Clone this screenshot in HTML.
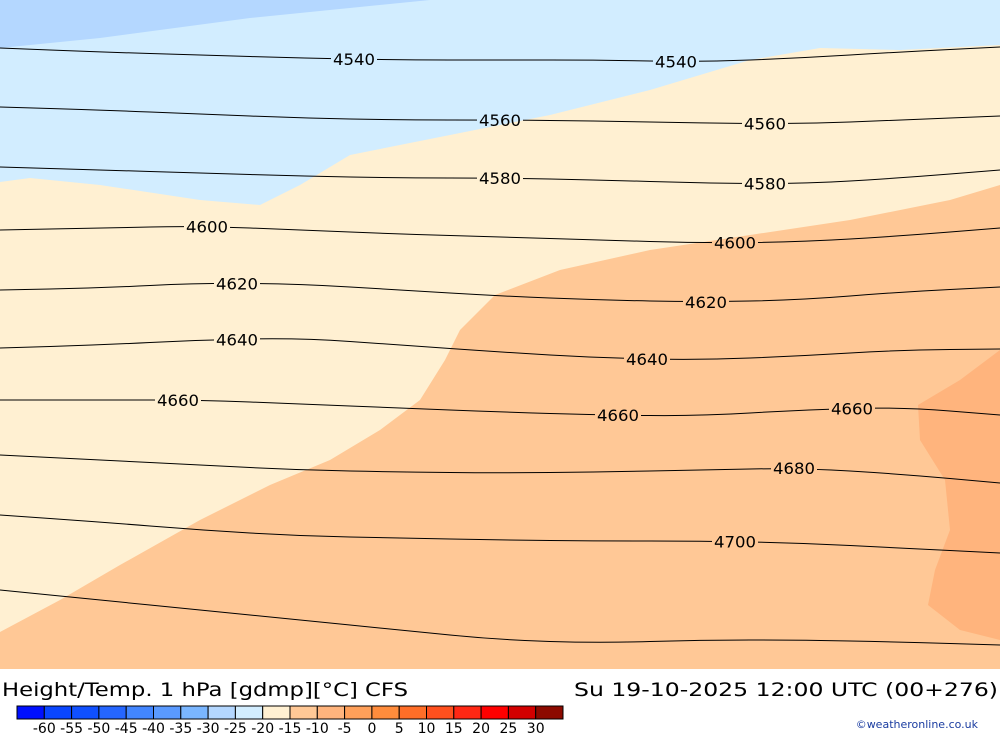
<!DOCTYPE html>
<html><head><meta charset="utf-8"><style>
body{margin:0;width:1000px;height:733px;background:#fff;overflow:hidden;font-family:"DejaVu Sans","Liberation Sans",sans-serif}
svg text{font-family:"DejaVu Sans","Liberation Sans",sans-serif}
</style></head><body>
<svg width="1000" height="733">
<defs><mask id="lblmask" maskUnits="userSpaceOnUse" x="0" y="0" width="1000" height="733"><rect x="0" y="0" width="1000" height="733" fill="#fff"/><g id="maskholes"></g></mask></defs>
<g>
<rect x="0" y="0" width="1000" height="669" fill="#d2edff"/>
<polygon fill="#b4d7ff" points="0,0 430,0 250,18 100,38 0,48"/>
<polygon fill="#fff0d2" points="0,182 30,178 100,185 200,200 260,205 300,185 350,155 450,135 550,115 650,90 750,60 820,48 900,50 1000,45 1000,669 0,669"/>
<polygon fill="#ffc896" points="0,632 60,600 120,565 200,520 270,485 330,460 380,430 420,400 445,360 460,330 495,295 560,270 650,250 750,235 850,220 950,200 1000,185 1000,669 0,669"/>
<polygon fill="#ffb47d" points="1000,350 960,380 918,405 920,440 945,480 950,530 935,570 928,605 960,630 1000,640"/>
<g id="contours" mask="url(#lblmask)"></g>
<g id="labels"></g>
</g>
<text x="2" y="696" font-size="19" textLength="406" lengthAdjust="spacingAndGlyphs">Height/Temp. 1 hPa [gdmp][°C] CFS</text>
<text x="574" y="696" font-size="19" textLength="424" lengthAdjust="spacingAndGlyphs">Su 19-10-2025 12:00 UTC (00+276)</text>
<g id="cbar"></g>
<text x="978" y="728" font-size="11" fill="#1a3ca0" text-anchor="end">©weatheronline.co.uk</text>
</svg>
<script>
const xs=[0,100,200,300,400,500,600,700,800,900,1000];
const levels=[4540,4560,4580,4600,4620,4640,4660,4680,4700,4720];
const c4540=[48,52,55,58,60,60,60,62,58,52,47];
const c4560=[107,110,114,118,120,120,121,123,124,120,116];
const c4580=[167,170,173,176,178,178,180,183,184,178,170];
const c4600=[230,228,226,230,234,237,240,243,242,236,228];
const c4620=[290,288,283,284,290,296,300,302,300,292,287];
const c4640=[348,345,340,338,345,352,358,360,356,350,349];
const c4660=[400,400,400,404,408,412,415,416,410,407,415];
const c4680=[455,460,465,470,472,473,472,470,468,474,483];
const c4700=[515,522,530,536,538,540,541,541,543,548,553];
const c4720=[590,600,610,620,630,640,643,640,640,642,645];
const lines=[c4540,c4560,c4580,c4600,c4620,c4640,c4660,c4680,c4700,c4720];
const labelX=[[354,676],[500,765],[500,765],[207,735],[237,706],[237,647],[178,618,852],[794],[735],[]];
const cbarLabels=["-60","-55","-50","-45","-40","-35","-30","-25","-20","-15","-10","-5","0","5","10","15","20","25","30"];
const cbarColors=["#0010ff","#0a46ff","#1050ff","#2566ff","#4286ff","#5a9aff","#7ab6ff","#b4d7ff","#d2edff","#fff0d2","#ffc896","#ffb47d","#ffa05a","#ff8c3c","#ff6e28","#ff501e","#ff2814","#ff0000","#d20000","#8c0a00"];
const NS="http://www.w3.org/2000/svg";
const g=document.getElementById('contours');
const lg=document.getElementById('labels');
const mh=document.getElementById('maskholes');
function yAt(arr,x){const i=Math.min(9,Math.floor(x/100));const t=(x-xs[i])/100;return arr[i]*(1-t)+arr[i+1]*t;}
lines.forEach((arr,k)=>{
 const p=document.createElementNS(NS,'path');
 let d='M'+xs[0]+','+arr[0];
 for(let i=1;i<xs.length;i++){const mx=(xs[i-1]+xs[i])/2;d+=' Q'+xs[i-1]+','+arr[i-1]+' '+mx+','+(arr[i-1]+arr[i])/2;}
 d+=' L'+xs[10]+','+arr[10];
 p.setAttribute('d',d);p.setAttribute('fill','none');p.setAttribute('stroke','#000');p.setAttribute('stroke-width','1');
 
 
 g.appendChild(p);
 labelX[k].forEach(lx=>{
  const y=yAt(arr,lx);
  const r=document.createElementNS(NS,'rect');
  r.setAttribute('x',lx-23);r.setAttribute('y',y-9);r.setAttribute('width',46);r.setAttribute('height',18);
  r.setAttribute('fill','#000');
  mh.appendChild(r);
  const t=document.createElementNS(NS,'text');
  t.setAttribute('x',lx);t.setAttribute('y',y+6);t.setAttribute('text-anchor','middle');t.setAttribute('font-size','16');
  t.setAttribute('textLength','42');t.setAttribute('lengthAdjust','spacingAndGlyphs');
  t.textContent=levels[k];
  
  
  lg.appendChild(t);
 });
});
const cb=document.getElementById('cbar');
const x0=17,w=27.3;
cbarColors.forEach((c,i)=>{
 const r=document.createElementNS(NS,'rect');
 r.setAttribute('x',x0+i*w);r.setAttribute('y',706);r.setAttribute('width',w);r.setAttribute('height',13);
 r.setAttribute('fill',c);r.setAttribute('stroke','#000');r.setAttribute('stroke-width','1');
 
 
 cb.appendChild(r);
});
cbarLabels.forEach((l,i)=>{
 const t=document.createElementNS(NS,'text');
 t.setAttribute('x',x0+(i+1)*w);t.setAttribute('y',733);t.setAttribute('text-anchor','middle');t.setAttribute('font-size','14');
 t.textContent=l;
 
 
 cb.appendChild(t);
});
</script>
</body></html>
